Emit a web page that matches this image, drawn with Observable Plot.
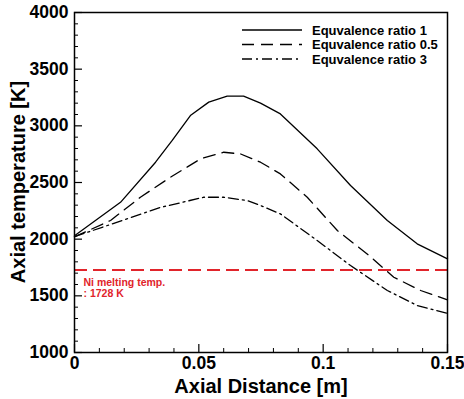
<!DOCTYPE html>
<html><head><meta charset="utf-8">
<script src="https://cdn.jsdelivr.net/npm/d3@7"></script>
<script src="https://cdn.jsdelivr.net/npm/@observablehq/plot@0.6"></script>
<style>
body{margin:0;background:#fff}
#wrap{position:relative;width:464px;height:399px}
#wrap svg{position:absolute;left:0;top:0}
</style>
</head><body><div id="wrap"></div>
<script>
// Equivalence ratio 1 (solid)
const distance1 = [0, 0.0185, 0.0326, 0.0393, 0.0466, 0.054, 0.0614, 0.068, 0.0748, 0.0828, 0.0976, 0.111, 0.1258, 0.1378, 0.15];
const temp1     = [2030, 2325, 2679, 2871, 3091, 3209, 3262, 3262, 3200, 3105, 2797, 2473, 2165, 1959, 1826];
// Equivalence ratio 0.5 (dashed)
const distance05 = [0, 0.0145, 0.0265, 0.0386, 0.0507, 0.060, 0.0668, 0.0748, 0.0828, 0.0936, 0.1057, 0.1177, 0.1284, 0.1392, 0.15];
const temp05     = [2020, 2165, 2370, 2547, 2709, 2767, 2752, 2679, 2576, 2370, 2076, 1870, 1664, 1547, 1465];
// Equivalence ratio 3 (dash-dot)
const distance3 = [0, 0.0145, 0.0346, 0.052, 0.060, 0.0694, 0.0748, 0.0828, 0.0976, 0.111, 0.1258, 0.1378, 0.15];
const temp3     = [2022, 2130, 2280, 2370, 2370, 2341, 2297, 2223, 1988, 1767, 1547, 1415, 1345];

const seriesNames = ["Equvalence ratio 1", "Equvalence ratio 0.5", "Equvalence ratio 3"];
const meltTemp = [1728];
const meltLabels = ["Ni melting temp.", ": 1728 K"];

const xMajor = [0, 0.05, 0.1, 0.15];
const xTickLabels = ["0", "0.05", "0.1", "0.15"];
const xMinor = [0.01,0.02,0.03,0.04,0.06,0.07,0.08,0.09,0.11,0.12,0.13,0.14];
const yMajor = [1000, 1500, 2000, 2500, 3000, 3500, 4000];
const yMinor = [1100,1200,1300,1400,1600,1700,1800,1900,2100,2200,2300,2400,2600,2700,2800,2900,3100,3200,3300,3400,3600,3700,3800,3900];

const toRows = (xs, ys) => xs.map((x, i) => ({x, y: ys[i]}));
const rows1 = toRows(distance1, temp1);
const rows05 = toRows(distance05, temp05);
const rows3 = toRows(distance3, temp3);

const dashes = ["none", "12,7", "10,4,2,4"];
const RED = "#e1242b";
const FONT = "'Liberation Sans', Arial, Helvetica, sans-serif";

const chart = Plot.plot({
  width: 464, height: 399,
  marginLeft: 74, marginRight: 17, marginTop: 12, marginBottom: 47,
  style: {fontFamily: FONT, background: "#fff", color: "#000", overflow: "visible"},
  x: {domain: [0, 0.15]},
  y: {domain: [1000, 4000]},
  marks: [
    Plot.ruleY(meltTemp, {stroke: RED, strokeWidth: 1.8, strokeDasharray: "13,6"}),
    Plot.text(meltTemp, {frameAnchor: "left", y: d => d, dx: 9, dy: 12.5, text: () => meltLabels[0], textAnchor: "start", fill: RED, fontWeight: "bold", fontSize: 10.5}),
    Plot.text(meltTemp, {frameAnchor: "left", y: d => d, dx: 9, dy: 23.5, text: () => meltLabels[1], textAnchor: "start", fill: RED, fontWeight: "bold", fontSize: 10.5}),
    Plot.line(rows1, {x: "x", y: "y", stroke: "#000", strokeWidth: 1.3, strokeDasharray: dashes[0]}),
    Plot.line(rows05, {x: "x", y: "y", stroke: "#000", strokeWidth: 1.3, strokeDasharray: dashes[1]}),
    Plot.line(rows3, {x: "x", y: "y", stroke: "#000", strokeWidth: 1.3, strokeDasharray: dashes[2]}),
    Plot.axisX({ticks: xMajor, tickSize: -8, tickFormat: () => "", label: null, strokeWidth: 1.2}),
    Plot.axisX({ticks: xMinor, tickSize: -4, tickFormat: () => "", label: null, strokeWidth: 1}),
    Plot.axisX({ticks: xMajor, tickSize: 0, tickPadding: 4, tickFormat: (d, i) => xTickLabels[i], label: null, fontSize: 17.5, fontWeight: "bold"}),
    Plot.axisY({ticks: yMajor, tickSize: -8, tickFormat: () => "", label: null, strokeWidth: 1.2}),
    Plot.axisY({ticks: yMinor, tickSize: -4, tickFormat: () => "", label: null, strokeWidth: 1}),
    Plot.axisY({ticks: yMajor, tickSize: 0, tickPadding: 6, tickFormat: d => String(d), label: null, fontSize: 17.5, fontWeight: "bold"}),
    Plot.text(["Axial Distance [m]"], {frameAnchor: "bottom", dy: 34, text: d => d, fontSize: 20, fontWeight: "bold", lineAnchor: "middle"}),
    Plot.frame({stroke: "#000", strokeWidth: 1.5})
  ]
});
document.getElementById("wrap").appendChild(chart);

// Legend and y-axis title overlay
const leg = d3.select("#wrap").append("svg").attr("width", 464).attr("height", 399)
  .style("font-family", FONT).style("pointer-events", "none");
const rowsY = [30, 44.5, 59];
seriesNames.forEach((name, i) => {
  leg.append("line").attr("x1", 242).attr("x2", 302).attr("y1", rowsY[i]).attr("y2", rowsY[i])
    .attr("stroke", "#000").attr("stroke-width", 1.6).attr("stroke-dasharray", dashes[i]);
  leg.append("text").attr("x", 312).attr("y", rowsY[i]).attr("dy", "0.35em")
    .attr("font-size", 13).attr("font-weight", "bold").text(name);
});
leg.append("text").attr("transform", "translate(18,182) rotate(-90)")
  .attr("text-anchor", "middle").attr("dy", "0.35em")
  .attr("font-size", 20).attr("font-weight", "bold").text("Axial temperature [K]");
</script>
</body></html>
